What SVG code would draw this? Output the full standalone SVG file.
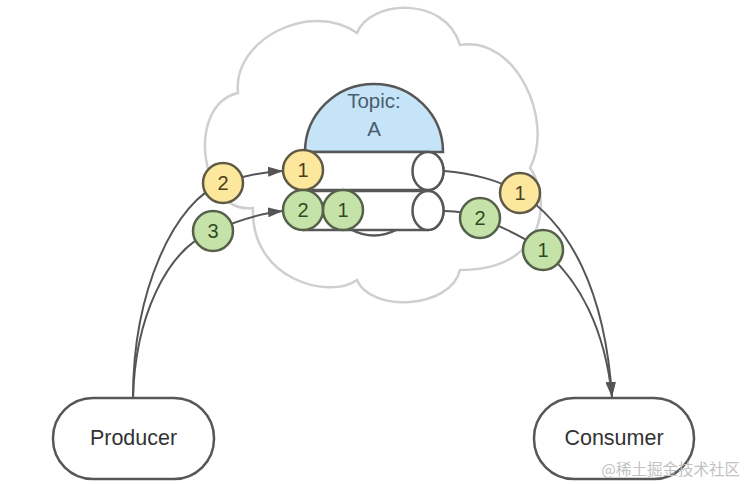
<svg xmlns="http://www.w3.org/2000/svg" width="748" height="484" viewBox="0 0 748 484">
<defs>
<style>
.cloud{fill:#fff;stroke:#cfcfcf;stroke-width:2.5}
.shape{fill:#fff;stroke:#575757;stroke-width:2.5}
.dome{fill:#c5e4f7;stroke:#575757;stroke-width:2.5}
.conn{fill:none;stroke:#555;stroke-width:2}
.y{fill:#fce79c;stroke:#5e5a46;stroke-width:2.5}
.g{fill:#c5e3a9;stroke:#56604b;stroke-width:2.5}
.ty{font-family:"Liberation Sans",Arial,sans-serif;font-size:20px;fill:#4a3f1c;text-anchor:middle}
.tg{font-family:"Liberation Sans",Arial,sans-serif;font-size:20px;fill:#2f4a22;text-anchor:middle}
.lbl{font-family:"Liberation Sans",Arial,sans-serif;font-size:21.5px;fill:#333;text-anchor:middle}
.topic{font-family:"Liberation Sans",Arial,sans-serif;font-size:20.5px;fill:#4b5d70;text-anchor:middle}
</style>
<marker id="arr" markerUnits="userSpaceOnUse" markerWidth="16" markerHeight="11" refX="15" refY="5" orient="auto">
<path d="M0,0 L15,5 L0,10 Z" fill="#555"/>
</marker>
</defs>
<rect width="748" height="484" fill="#fff"/>
<g id="cloud">
<path class="cloud" d="M238,93 C232,40 310,0 357,33 C370,0 445,-5 460,45 C515,35 555,120 530,168 C550,195 550,270 460,270 C450,310 370,312 357,280 C330,300 250,280 253,208 C200,215 185,105 238,93 Z"/>
</g>
<g id="topic">
<path class="dome" d="M305,152 A69,68 0 0 1 443,152 Z"/>
<text class="topic" x="374" y="108">Topic:</text>
<text class="topic" x="374" y="136">A</text>
<path class="shape" fill="none" d="M350,229 Q374,242 398,229"/>
</g>
<g id="partition-1">
<path class="shape" d="M303,152 H428 A15.5,19 0 0 1 428,190 H303 A15.5,19 0 0 1 303,152 Z"/>
<ellipse class="shape" cx="428" cy="171" rx="15.5" ry="19"/>
</g>
<g id="partition-2">
<path class="shape" d="M303,191 H428 A15.5,19.5 0 0 1 428,230 H303 A15.5,19.5 0 0 1 303,191 Z"/>
<ellipse class="shape" cx="428" cy="210.5" rx="15.5" ry="19.5"/>
</g>
<g id="connectors">
<path class="conn" marker-end="url(#arr)" d="M133,398 C133,290 175,200 223,183 C245,175 262,172 283,171"/>
<path class="conn" marker-end="url(#arr)" d="M133,398 C135,320 165,250 213,231 C237,221 260,213 283,211"/>
<path class="conn" marker-end="url(#arr)" d="M444,171 C470,173 500,180 520,193 C570,225 605,290 612,397"/>
<path class="conn" marker-end="url(#arr)" d="M444,211 C460,211 470,213 480,218 C505,228 525,238 543,250 C580,280 605,330 612,397"/>
</g>
<g id="msg-y1-in"><circle class="y" cx="303" cy="170" r="20"/><text class="ty" x="303" y="177">1</text></g>
<g id="msg-g2-in"><circle class="g" cx="303" cy="210" r="20"/><text class="tg" x="303" y="217">2</text></g>
<g id="msg-g1-in"><circle class="g" cx="343" cy="210" r="20"/><text class="tg" x="343" y="217">1</text></g>
<g id="msg-y2"><circle class="y" cx="223" cy="183" r="20"/><text class="ty" x="223" y="190">2</text></g>
<g id="msg-g3"><circle class="g" cx="213" cy="231" r="20"/><text class="tg" x="213" y="238">3</text></g>
<g id="msg-y1-out"><circle class="y" cx="520" cy="193" r="20"/><text class="ty" x="520" y="200">1</text></g>
<g id="msg-g2-out"><circle class="g" cx="480" cy="218" r="20"/><text class="tg" x="480" y="225">2</text></g>
<g id="msg-g1-out"><circle class="g" cx="543" cy="250" r="20"/><text class="tg" x="543" y="257">1</text></g>
<g id="producer">
<rect class="shape" x="53" y="398" width="161" height="81" rx="40"/>
<text class="lbl" x="133.5" y="445">Producer</text>
</g>
<g id="consumer">
<rect class="shape" x="534" y="398" width="160" height="81" rx="40"/>
<text class="lbl" x="614" y="445">Consumer</text>
</g>
<text x="740" y="475" text-anchor="end" font-family="'Noto Sans CJK SC',sans-serif" font-size="15.5" fill="#c2c2c2">@稀土掘金技术社区</text>
</svg>
